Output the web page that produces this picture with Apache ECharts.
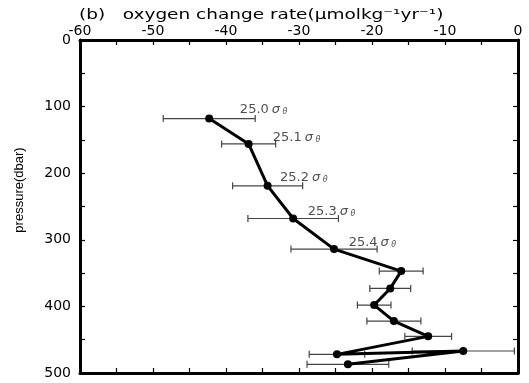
<!DOCTYPE html>
<html>
<head>
<meta charset="utf-8">
<script src="https://cdn.jsdelivr.net/npm/echarts@6/dist/echarts.min.js"></script>
<style>
html, body { margin: 0; padding: 0; background: #fff; }
#chart { width: 529px; height: 383px; }
</style>
</head>
<body>
<div id="chart"></div>
<script>
// profile values
const pressure = [118, 156, 219, 268, 314, 347, 373, 398, 422, 445, 472, 467, 487]
const rate = [-42.3, -36.9, -34.3, -30.8, -25.2, -16.0, -17.5, -19.7, -17.0, -12.3, -24.8, -7.5, -23.3]
const rateErr = [6.3, 3.7, 4.8, 6.2, 5.9, 3.0, 2.8, 2.3, 3.7, 3.2, 3.8, 7.0, 5.6]

// isopycnal labels (sigma-theta)
const sigmaNames = ['25.0', '25.1', '25.2', '25.3', '25.4']
const sigmaRate = [-38.1, -33.6, -32.6, -28.8, -23.2]
const sigmaPressure = [104, 147, 207, 258, 304]

const font = 'DejaVu Sans'
const chart = echarts.init(document.getElementById('chart'))

const tickStyle = { show: true, inside: true, length: 5, lineStyle: { color: '#000', width: 1.2 } }
const minorStyle = { show: true, splitNumber: 2, length: 5, lineStyle: { color: '#000', width: 1.2 } }
const lineStyle = { onZero: false, lineStyle: { color: '#000', width: 3 } }

const option = {
  animation: false,
  grid: { left: 80, right: 11, top: 40, bottom: 10 },
  xAxis: [
    {
      type: 'value', position: 'top', min: -60, max: 0, interval: 10,
      axisLine: lineStyle, axisTick: tickStyle, minorTick: minorStyle,
      splitLine: { show: false },
      axisLabel: { fontFamily: font, fontSize: 14, color: '#000', margin: 2 }
    },
    {
      type: 'value', position: 'bottom', min: -60, max: 0, interval: 10,
      axisLine: lineStyle, axisTick: tickStyle, minorTick: minorStyle,
      splitLine: { show: false }, axisLabel: { show: false }
    }
  ],
  yAxis: [
    {
      type: 'value', inverse: true, min: 0, max: 500, interval: 100,
      axisLine: lineStyle, axisTick: tickStyle, minorTick: minorStyle,
      splitLine: { show: false },
      axisLabel: { fontFamily: font, fontSize: 14, color: '#000', margin: 9 }
    },
    {
      type: 'value', position: 'right', inverse: true, min: 0, max: 500, interval: 100,
      axisLine: lineStyle, axisTick: tickStyle, minorTick: minorStyle,
      splitLine: { show: false }, axisLabel: { show: false }
    }
  ],
  graphic: [
    {
      // title, stretched sideways like the original figure
      type: 'text', x: 79, y: 15, scaleX: 1.32,
      style: {
        text: '(b)   oxygen change rate(µmolkg⁻¹yr⁻¹)', fontFamily: font,
        fontSize: 14, fill: '#000', align: 'left', verticalAlign: 'middle'
      }
    },
    {
      type: 'text', x: 19, y: 190, rotation: Math.PI / 2,
      style: {
        text: 'pressure(dbar)', fontFamily: 'Liberation Sans Narrow, Liberation Sans',
        fontSize: 13, fill: '#000', align: 'center', verticalAlign: 'middle'
      }
    }
  ],
  series: [
    {
      type: 'custom',
      z: 2,
      encode: { x: [0, 2], y: 1 },
      data: pressure.map((p, i) => [rate[i] - rateErr[i], p, rate[i] + rateErr[i]]),
      renderItem: (params, api) => {
        const a = api.coord([api.value(0), api.value(1)])
        const b = api.coord([api.value(2), api.value(1)])
        const h = 3.5
        const st = { stroke: '#444', lineWidth: 1.2 }
        return {
          type: 'group',
          children: [
            { type: 'line', shape: { x1: a[0], y1: a[1], x2: b[0], y2: b[1] }, style: st },
            { type: 'line', shape: { x1: a[0], y1: a[1] - h, x2: a[0], y2: a[1] + h }, style: st },
            { type: 'line', shape: { x1: b[0], y1: b[1] - h, x2: b[0], y2: b[1] + h }, style: st }
          ]
        }
      }
    },
    {
      type: 'line',
      z: 3,
      data: pressure.map((p, i) => [rate[i], p]),
      symbol: 'circle',
      symbolSize: 8,
      lineStyle: { color: '#000', width: 3 },
      itemStyle: { color: '#000' }
    },
    {
      type: 'scatter',
      z: 4,
      symbolSize: 0,
      data: sigmaNames.map((n, i) => ({ name: n, value: [sigmaRate[i], sigmaPressure[i]] })),
      label: {
        show: true,
        position: 'right',
        distance: 0,
        formatter: p => '{n|' + p.name + '}{s|σ}{t| θ}',
        rich: {
          n: { fontFamily: font, fontSize: 13, color: '#222' },
          s: { fontFamily: font, fontSize: 13, fontStyle: 'italic', color: '#222', padding: [0, 0, 0, 3] },
          t: { fontFamily: font, fontSize: 8, fontStyle: 'italic', color: '#222', padding: [5, 0, 0, 0] }
        }
      }
    }
  ]
}

chart.setOption(option)
window.addEventListener('resize', () => chart.resize())
</script>
</body>
</html>
